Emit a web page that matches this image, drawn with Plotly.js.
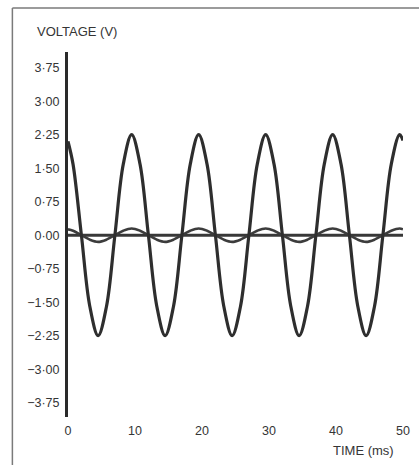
<!DOCTYPE html>
<html>
<head>
<meta charset="utf-8">
<script src="https://cdn.plot.ly/plotly-3.0.1.min.js"></script>
<style>
  html, body { margin: 0; padding: 0; background: #ffffff; }
  #chart { width: 419px; height: 465px; }
</style>
</head>
<body>
<div id="chart"></div>
<script>
// Time samples (ms)
const timeMs = [0, 0.75, 2, 3.25, 4.5, 5.75, 7, 8.25, 9.5, 10.75, 12, 13.25, 14.5, 15.75, 17, 18.25,
  19.5, 20.75, 22, 23.25, 24.5, 25.75, 27, 28.25, 29.5, 30.75, 32, 33.25, 34.5, 35.75, 37, 38.25,
  39.5, 40.75, 42, 43.25, 44.5, 45.75, 47, 48.25, 49.5, 50];
// Large wave (V)
const largeWave = [2.1, 1.59, 0, -1.59, -2.25, -1.59, 0, 1.59, 2.25, 1.59, 0, -1.59, -2.25, -1.59, 0, 1.59,
  2.25, 1.59, 0, -1.59, -2.25, -1.59, 0, 1.59, 2.25, 1.59, 0, -1.59, -2.25, -1.59, 0, 1.59,
  2.25, 1.59, 0, -1.59, -2.25, -1.59, 0, 1.59, 2.25, 2.12];
// Small wave (V)
const smallWave = [0.13, 0.1, 0, -0.1, -0.15, -0.1, 0, 0.1, 0.15, 0.1, 0, -0.1, -0.15, -0.1, 0, 0.1,
  0.15, 0.1, 0, -0.1, -0.15, -0.1, 0, 0.1, 0.15, 0.1, 0, -0.1, -0.15, -0.1, 0, 0.1,
  0.15, 0.1, 0, -0.1, -0.15, -0.1, 0, 0.1, 0.15, 0.13];
// Flat line
const flatTime = [0, 50];
const flatWave = [0, 0];

const yTickVals = [3.75, 3.00, 2.25, 1.50, 0.75, 0.00, -0.75, -1.50, -2.25, -3.00, -3.75];
const yTickText = ["3·75", "3·00", "2·25", "1·50", "0·75", "0·00", "−0·75", "−1·50", "−2·25", "−3·00", "−3·75"];
const xTickVals = [0, 10, 20, 30, 40, 50];
const xTickText = ["0", "10", "20", "30", "40", "50"];

const font = "'Liberation Sans', Arial, Helvetica, sans-serif";
const ink = "#353535";

const traces = [
  { x: flatTime, y: flatWave, mode: "lines", line: { color: "#383838", width: 3 }, hoverinfo: "skip" },
  { x: timeMs, y: smallWave, mode: "lines", line: { color: "#3c3c3c", width: 2.6, shape: "spline", smoothing: 1 }, hoverinfo: "skip" },
  { x: timeMs, y: largeWave, mode: "lines", line: { color: "#2e2e2e", width: 3.2, shape: "spline", smoothing: 1 }, hoverinfo: "skip" }
];

const layout = {
  width: 419, height: 465,
  margin: { l: 68, r: 16, t: 52, b: 48 },
  paper_bgcolor: "#ffffff", plot_bgcolor: "#ffffff",
  showlegend: false,
  font: { family: font, size: 12, color: ink },
  xaxis: {
    range: [0, 50], tickvals: xTickVals, ticktext: xTickText,
    showgrid: false, zeroline: false, showline: false, ticks: "",
    ticklabelstandoff: 4, fixedrange: true,
    tickfont: { family: font, size: 12.5, color: ink }
  },
  yaxis: {
    range: [-4.07, 4.1], tickvals: yTickVals, ticktext: yTickText,
    showgrid: false, zeroline: false, showline: true, linecolor: "#2a2a2a", linewidth: 3,
    ticks: "", ticklabelstandoff: 3, fixedrange: true,
    tickfont: { family: font, size: 12.5, color: ink }
  },
  annotations: [
    { text: "VOLTAGE (V)", xref: "paper", yref: "paper", x: -0.1, y: 1.0575, xanchor: "left", yanchor: "middle",
      showarrow: false, font: { family: font, size: 13, color: ink } },
    { text: "TIME (ms)", xref: "paper", yref: "paper", x: 0.98, y: -0.093, xanchor: "right", yanchor: "middle",
      showarrow: false, font: { family: font, size: 13, color: ink } }
  ],
  shapes: [
    { type: "line", xref: "paper", yref: "paper", x0: -0.166, x1: 1.1, y0: 1.1205, y1: 1.1205,
      line: { color: "#7a7a7a", width: 1.5 } },
    { type: "line", xref: "paper", yref: "paper", x0: -0.166, x1: -0.166, y0: 1.1205, y1: -0.14,
      line: { color: "#7a7a7a", width: 1.5 } }
  ]
};

Plotly.newPlot("chart", traces, layout, { displayModeBar: false, staticPlot: true });
</script>
</body>
</html>
